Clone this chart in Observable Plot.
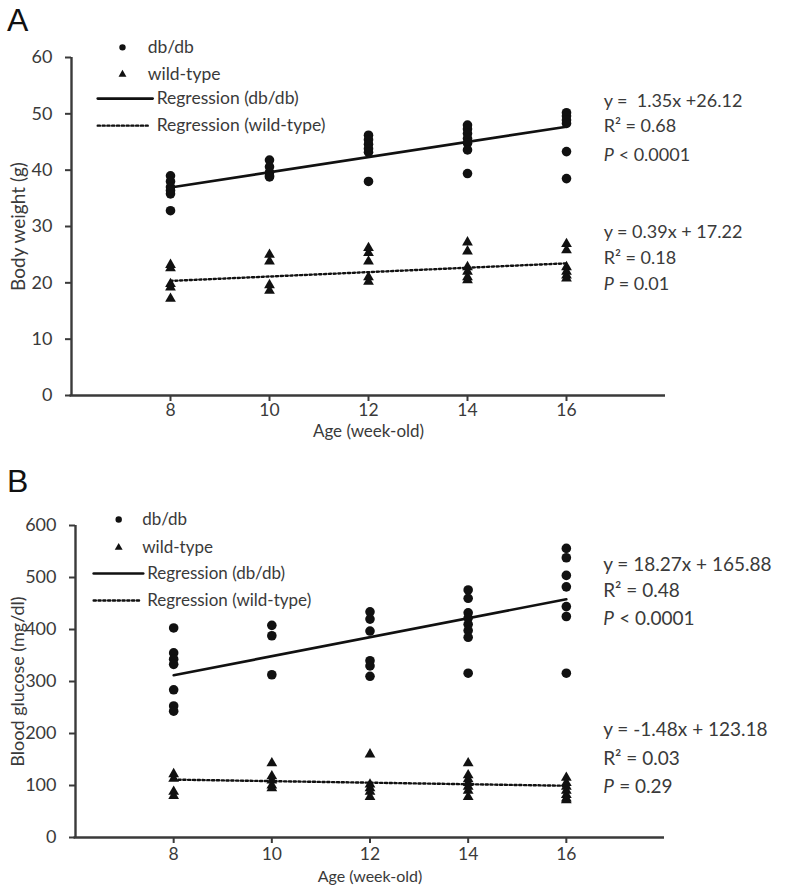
<!DOCTYPE html>
<html><head><meta charset="utf-8">
<script src="https://cdn.jsdelivr.net/npm/d3@7"></script>
<script src="https://cdn.jsdelivr.net/npm/@observablehq/plot@0.6"></script>
<style>
body{margin:0;background:#fff;}
#fig{position:relative;width:788px;height:889px;font-family:Lato,"Noto Sans",sans-serif;}
.panel{position:absolute;left:0;}
.lab{position:absolute;font-family:"Liberation Sans",Arial,sans-serif;font-size:32px;color:#111;line-height:1;}
</style></head><body>
<div id="fig">
<div id="pa" class="panel" style="top:0"></div>
<div id="pb" class="panel" style="top:445px"></div>
<div class="lab" style="left:7px;top:4px">A</div>
<div class="lab" style="left:7px;top:465px">B</div>
</div>
<script>
const weeks = [8, 10, 12, 14, 16];
const xLabel = "Age (week-old)";
const legendLabels = ["db/db", "wild-type", "Regression (db/db)", "Regression (wild-type)"];

// Panel A: body weight (g); one inner list per week, in the order of `weeks`
const bwTicks = [0, 10, 20, 30, 40, 50, 60];
const bwLabel = "Body weight (g)";
const bwDbDb = [
  [39.0, 38.0, 37.0, 36.4, 35.8, 32.8],
  [41.8, 40.6, 39.6, 39.0, 38.8],
  [46.2, 45.4, 44.6, 43.8, 43.2, 38.0],
  [48.0, 47.3, 46.5, 45.6, 44.8, 43.6, 39.4],
  [50.2, 49.6, 48.9, 48.3, 43.3, 38.5]
];
const bwWild = [
  [23.2, 22.6, 19.8, 19.2, 17.2],
  [25.0, 23.8, 19.6, 18.6],
  [26.2, 25.3, 23.8, 21.0, 20.2],
  [27.2, 25.6, 22.8, 22.0, 21.0, 20.5],
  [26.9, 25.8, 22.8, 22.0, 21.3, 20.8]
];
const bwFitDb = [1.35, 26.12];     // slope, intercept
const bwFitWild = [0.39, 17.22];
const bwStatsDb = ["y =  1.35x +26.12", "R² = 0.68", "< 0.0001"];
const bwStatsWild = ["y = 0.39x + 17.22", "R² = 0.18", "= 0.01"];

// Panel B: blood glucose (mg/dl)
const bgTicks = [0, 100, 200, 300, 400, 500, 600];
const bgLabel = "Blood glucose (mg/dl)";
const bgDbDb = [
  [403, 355, 343, 333, 284, 253, 243],
  [408, 388, 313],
  [434, 420, 397, 340, 330, 310],
  [476, 460, 432, 422, 410, 398, 385, 316],
  [556, 538, 504, 482, 444, 425, 316]
];
const bgWild = [
  [122, 113, 88, 80],
  [143, 118, 110, 100, 95],
  [160, 102, 95, 88, 78],
  [143, 120, 112, 105, 98, 90, 78],
  [115, 105, 98, 90, 82, 75, 72]
];
const bgFitDb = [18.27, 165.88];
const bgFitWild = [-1.48, 123.18];
const bgStatsDb = ["y = 18.27x + 165.88", "R² = 0.48", "< 0.0001"];
const bgStatsWild = ["y = -1.48x + 123.18", "R² = 0.03", "= 0.29"];

const ink = "#111";
const grey = "#3a3a3a";
const dash = "2.2,2.6";

function flat(groups) {
  return groups.flatMap((vals, i) => vals.map(v => ({x: weeks[i], y: v})));
}
function fit(coef) {
  return [weeks[0], weeks[weeks.length - 1]].map(x => ({x, y: coef[0] * x + coef[1]}));
}

function panel(cfg) {
  const db = flat(cfg.db), wt = flat(cfg.wild);
  const L = cfg.legend;   // legend layout in data units
  const legPts = [
    {x: L.symX, y: L.rows[0], s: "circle"},
    {x: L.symX, y: L.rows[1], s: "triangle"}
  ];
  const legTxt = legendLabels.map((t, i) => ({x: i < 2 ? L.txtX1 : L.txtX2, y: L.rows[i], t}));
  const solid = [{x: L.lineX0, y: L.rows[2]}, {x: L.lineX1, y: L.rows[2]}];
  const dotted = [{x: L.lineX0, y: L.rows[3]}, {x: L.dotX1, y: L.rows[3]}];
  const statsRows = (lines, ys) => lines.map((t, i) => ({x: cfg.statX, y: ys[i], t, p: i === 2}));
  const stats = [...statsRows(cfg.statsDb, cfg.statYs[0]), ...statsRows(cfg.statsWild, cfg.statYs[1])];
  const yMax = cfg.ticks[cfg.ticks.length - 1];
  return Plot.plot({
    width: 788,
    height: cfg.height,
    marginLeft: cfg.ml,
    marginRight: cfg.mr,
    marginTop: cfg.mt,
    marginBottom: cfg.mb,
    style: {fontFamily: "Lato, 'Noto Sans', sans-serif", color: grey, background: "white", overflow: "visible"},
    x: {domain: [6, 18], axis: null},
    y: {domain: [0, yMax], axis: null},
    marks: [
      Plot.axisY({ticks: cfg.ticks, tickSize: 6, tickPadding: cfg.yPad, fontSize: 18, strokeWidth: 2, label: null}),
      Plot.axisX({ticks: weeks, tickSize: 6, tickPadding: cfg.xPad, fontSize: 17.5, strokeWidth: 2, label: null}),
      Plot.ruleX([6], {y1: 0, y2: yMax, stroke: grey, strokeWidth: 2.4}),
      Plot.ruleY([0], {x1: 5.97, x2: 18, stroke: grey, strokeWidth: 2.4}),
      Plot.text([cfg.yLabel], {frameAnchor: "left", textAnchor: "middle", rotate: -90, dx: -(cfg.ml - 18), fontSize: cfg.yTitleFont, fill: grey}),
      Plot.text([xLabel], {frameAnchor: "bottom", dy: cfg.xTitleDy, fontSize: cfg.xTitleFont, fill: grey}),
      Plot.line(fit(cfg.fitDb), {x: "x", y: "y", stroke: ink, strokeWidth: 2.6}),
      Plot.line(fit(cfg.fitWild), {x: "x", y: "y", stroke: ink, strokeWidth: 2.4, strokeDasharray: dash}),
      Plot.dot(db, {x: "x", y: "y", r: 4.8, fill: ink, symbol: "circle"}),
      Plot.dot(wt, {x: "x", y: "y", r: 4, fill: ink, symbol: "triangle"}),
      // legend
      Plot.dot(legPts, {x: "x", y: "y", symbol: "s", r: d => d.s === "circle" ? 4.8 : 4, fill: ink}),
      Plot.line(solid, {x: "x", y: "y", stroke: ink, strokeWidth: 2.6}),
      Plot.line(dotted, {x: "x", y: "y", stroke: ink, strokeWidth: 2.4, strokeDasharray: dash}),
      Plot.text(legTxt, {x: "x", y: "y", text: "t", textAnchor: "start", fontSize: cfg.legFont, fill: grey}),
      // regression statistics
      Plot.text(stats.filter(d => !d.p), {x: "x", y: "y", text: "t", textAnchor: "start", fontSize: cfg.statFont, fill: grey}),
      Plot.text(stats.filter(d => d.p), {x: "x", y: "y", text: () => "P", textAnchor: "start", fontSize: cfg.statFont, fontStyle: "italic", fill: grey}),
      Plot.text(stats.filter(d => d.p), {x: "x", y: "y", text: "t", textAnchor: "start", dx: Math.round(cfg.statFont * 0.85), fontSize: cfg.statFont, fill: grey})
    ]
  });
}

document.getElementById("pa").append(panel({
  height: 445, ml: 71, mr: 123, mt: 57, mb: 50, xPad: 2, yPad: 13, xTitleDy: 41,
  legFont: 17.5, statFont: 18, yTitleFont: 19, xTitleFont: 17,
  ticks: bwTicks, yLabel: bwLabel, db: bwDbDb, wild: bwWild,
  fitDb: bwFitDb, fitWild: bwFitWild, statsDb: bwStatsDb, statsWild: bwStatsWild,
  statX: 16.75, statYs: [[52.2, 47.8, 42.6], [28.9, 24.3, 19.7]],
  legend: {symX: 7.03, txtX1: 7.54, txtX2: 7.72, lineX0: 6.53, lineX1: 7.64, dotX1: 7.54, rows: [61.8, 57.0, 52.7, 47.9]}
}));
document.getElementById("pb").append(panel({
  height: 444, ml: 75, mr: 124, mt: 80, mb: 52, xPad: 4, yPad: 13, xTitleDy: 44,
  legFont: 17, statFont: 19, yTitleFont: 18, xTitleFont: 16,
  ticks: bgTicks, yLabel: bgLabel, db: bgDbDb, wild: bgWild,
  fitDb: bgFitDb, fitWild: bgFitWild, statsDb: bgStatsDb, statsWild: bgStatsWild,
  statX: 16.75, statYs: [[525, 475, 421], [206, 152, 98]],
  legend: {symX: 6.88, txtX1: 7.36, txtX2: 7.46, lineX0: 6.37, lineX1: 7.38, dotX1: 7.32, rows: [611.5, 557.7, 507.7, 455.8]}
}));
</script>
</body></html>
